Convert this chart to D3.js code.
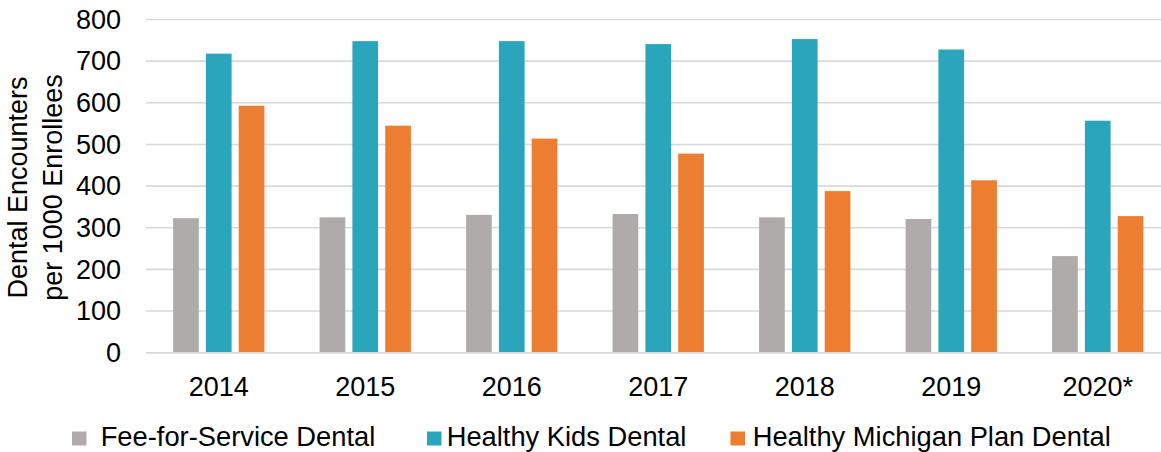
<!DOCTYPE html>
<html>
<head>
<meta charset="utf-8">
<script src="https://cdn.jsdelivr.net/npm/d3@7"></script>
<style>
  html, body { margin: 0; padding: 0; background: #fff; }
  svg { display: block; font-family: "Liberation Sans", Arial, sans-serif; }
</style>
</head>
<body>
<svg id="chart" width="1161" height="452"></svg>
<script>
const categories = ["2014", "2015", "2016", "2017", "2018", "2019", "2020*"];
const seriesNames = ["Fee-for-Service Dental", "Healthy Kids Dental", "Healthy Michigan Plan Dental"];
const feeForService = [323, 325, 331, 333, 325, 321, 232];
const healthyKids = [718, 748, 748, 741, 753, 728, 557];
const healthyMichigan = [593, 545, 514, 478, 388, 414, 328];
const yTicks = [0, 100, 200, 300, 400, 500, 600, 700, 800];
const colors = ["#AFABAB", "#2BA5BC", "#ED7D31"];

const seriesValues = [feeForService, healthyKids, healthyMichigan];

const svg = d3.select("#chart");
const W = 1161, H = 452;
const fontSize = 27;

const y = d3.scaleLinear().domain([0, 800]).range([352.7, 19.5]);
const x0 = d3.scaleBand().domain(categories).range([145.5, 145.5 + 7 * 146.5]).padding(0);
const x1 = d3.scaleBand().domain(seriesNames).range([0, x0.bandwidth()])
  .paddingInner(0.2165).paddingOuter(0.841);

// gridlines
const grid = svg.append("g");
grid.selectAll("line").data(yTicks).join("line")
  .attr("x1", 146).attr("x2", W)
  .attr("y1", d => y(d)).attr("y2", d => y(d))
  .attr("stroke", "#d9d9d9").attr("stroke-width", 1.6);

// y axis labels
const yAxis = d3.axisLeft(y).tickValues(yTicks).tickSize(0).tickPadding(0);
const yg = svg.append("g").attr("transform", "translate(121,0)").call(yAxis);
yg.select(".domain").remove();
yg.selectAll("text").attr("font-size", fontSize).attr("fill", "#000")
  .attr("font-family", "Liberation Sans, Arial, sans-serif");

// bars
const groups = svg.append("g").selectAll("g").data(categories).join("g")
  .attr("transform", d => `translate(${x0(d)},0)`);
groups.selectAll("rect")
  .data((c, i) => seriesNames.map((s, j) => ({ s, v: seriesValues[j][i], j })))
  .join("rect")
  .attr("x", d => x1(d.s))
  .attr("width", x1.bandwidth())
  .attr("y", d => y(d.v))
  .attr("height", d => y(0) - y(d.v))
  .attr("fill", d => colors[d.j]);

// baseline
svg.append("line").attr("x1", 146).attr("x2", W)
  .attr("y1", y(0)).attr("y2", y(0))
  .attr("stroke", "#d9d9d9").attr("stroke-width", 1.6);

// x axis labels
const xAxis = d3.axisBottom(x0).tickSize(0).tickPadding(0);
const xg = svg.append("g").attr("transform", "translate(0,375)").call(xAxis);
xg.select(".domain").remove();
xg.selectAll("text").attr("font-size", fontSize).attr("fill", "#000")
  .attr("font-family", "Liberation Sans, Arial, sans-serif")
  .attr("dy", "0").attr("y", 20.5);

// y axis title
const yt = svg.append("text")
  .attr("transform", "translate(0,187.5) rotate(-90)")
  .attr("text-anchor", "middle")
  .attr("font-size", fontSize).attr("fill", "#000");
yt.append("tspan").attr("x", 0).attr("y", 27).text("Dental Encounters");
yt.append("tspan").attr("x", 0).attr("y", 62).text("per 1000 Enrollees");

// legend
const legendPos = [
  { sx: 72, tx: 100.7 },
  { sx: 427, tx: 446.7 },
  { sx: 730.5, tx: 752.7 }
];
const lg = svg.append("g").selectAll("g").data(seriesNames).join("g");
lg.append("rect")
  .attr("x", (d, i) => legendPos[i].sx).attr("y", 431.5)
  .attr("width", 14.5).attr("height", 14)
  .attr("fill", (d, i) => colors[i]);
lg.append("text")
  .attr("x", (d, i) => legendPos[i].tx).attr("y", 446)
  .attr("font-size", 27.3).attr("fill", "#000")
  .text(d => d);
</script>
</body>
</html>
